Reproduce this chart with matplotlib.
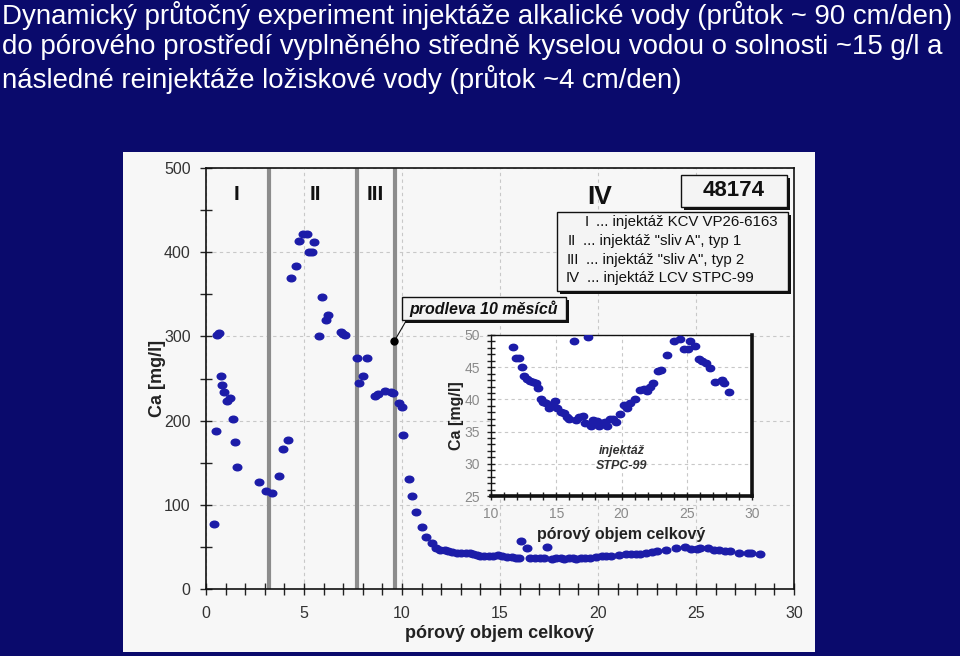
import matplotlib.pyplot as plt
from matplotlib.path import Path
from matplotlib.patches import Rectangle

plt.rcParams['font.family'] = ['Liberation Sans', 'DejaVu Sans']

# data
porovy_objem = [0.39, 0.51, 0.55, 0.65, 0.75, 0.82, 0.92, 1.05, 1.22, 1.36, 1.48, 1.58,
                2.72, 3.04, 3.37, 3.71, 3.95, 4.2, 4.35, 4.57, 4.76, 4.97, 5.14, 5.26,
                5.42, 5.53, 5.78, 5.92, 6.12, 6.22, 6.9, 7.0, 7.1, 7.69, 7.79, 8.0,
                8.23, 8.62, 8.79, 9.13, 9.44, 9.56, 9.86, 9.98, 10.07, 10.34, 10.53,
                10.7, 11.02, 11.22, 11.51,
                11.71, 11.92, 12.17, 12.35, 12.53, 12.79, 12.99, 13.25, 13.45, 13.6,
                13.81, 14.0, 14.2, 14.45, 14.63, 14.88, 15.09, 15.35, 15.6, 15.81,
                15.96, 16.07, 16.37, 16.52, 16.78, 17.03, 17.24, 17.42, 17.65, 17.85,
                18.1, 18.26, 18.52, 18.72, 18.87, 19.13, 19.33, 19.6, 19.9, 20.2,
                20.41, 20.66, 21.05, 21.43, 21.69, 21.94, 22.15, 22.45, 22.76, 23.02,
                23.48, 23.99, 24.45, 24.76, 25.06, 25.22, 25.6, 25.91, 26.19, 26.5,
                26.75, 27.19, 27.67, 27.83, 28.24]
ca = [76.8, 187.6, 301.7, 304, 253, 242, 234, 223.6, 226.5, 201.5, 175, 144.5,
      127, 116.4, 114, 134, 166, 177, 369, 384, 413.7, 422, 422, 400,
      400, 411.8, 300, 347, 320, 325, 305.6, 303, 301.7, 274.7, 244.6, 253,
      274.7, 229.6, 231, 235, 234, 232.4, 220.5, 216.5, 183, 131, 111,
      91.8, 73.6, 61.8, 54.3,
      48.1, 46.5, 46.4, 45.1, 43.6, 43.1, 42.9, 42.7, 42.6, 41.75,
      40.1, 39.6, 39.4, 38.6, 39.1, 39.8, 38.7, 38.0, 37.9, 37.2,
      36.9, 57.4, 49.0, 36.8, 37.3, 37.4, 36.4, 49.7, 35.9, 36.8,
      36.7, 35.9, 36.3, 36.5, 35.8, 36.9, 36.9, 36.5, 37.7, 39.2,
      38.6, 39.5, 40.1, 41.5, 41.6, 41.3, 42.0, 42.5, 44.4, 44.6,
      46.9, 49.0, 49.4, 47.9, 47.8, 49.0, 48.3, 46.3, 45.9, 45.6,
      44.8, 42.7, 43.0, 42.6, 41.1]

hranice = [3.2, 7.7, 9.66]          # konec injektaze I, II, III
prodleva_x, prodleva_y = 9.61, 294.5
faze = ['I', 'II', 'III']
faze_x = [1.58, 5.56, 8.62]
legenda_cisla = ['I', 'II', 'III', 'IV']
legenda_texty = ['... injektáž KCV VP26-6163', '... injektáž "sliv A", typ 1',
                 '... injektáž "sliv A", typ 2', '... injektáž LCV STPC-99']
nadpis = ['Dynamický průtočný experiment injektáže alkalické vody (průtok ~ 90 cm/den)',
          'do pórového prostředí vyplněného středně kyselou vodou o solnosti ~15 g/l a',
          'následné reinjektáže ložiskové vody (průtok ~4 cm/den)']

W, H = 960, 656
def fx(x): return x / W
def fy(y): return 1 - y / H

modra = '#1c1ca8'
kruh = Path.unit_circle()
elipsa = Path(kruh.vertices * [1.3, 1.0], kruh.codes)

fig = plt.figure(figsize=(9.6, 6.56), dpi=100)
fig.patch.set_facecolor('#0a0a6c')

# bily podklad obrazku
fig.add_artist(Rectangle((fx(123), fy(652)), (815 - 123) / W, (652 - 152) / H,
                         transform=fig.transFigure, facecolor='#f7f7f7',
                         edgecolor='none', zorder=-1))

for i, radek in enumerate(nadpis):
    fig.text(fx(2), fy(15 + 32.5 * i), radek, color='white', fontsize=19.9,
             va='center', ha='left')

# hlavni graf
ax = fig.add_axes([fx(206), fy(589), 588 / W, 421 / H])
ax.set_facecolor('none')
ax.set_xlim(0, 30)
ax.set_ylim(0, 500)
ax.set_xticks(range(0, 31, 5))
ax.set_xticks(range(0, 31), minor=True)
ax.set_yticks(range(0, 501, 100))
ax.set_yticks(range(0, 501, 50), minor=True)
ax.tick_params(which='both', direction='inout', length=8, width=1, color='#222222')
ax.tick_params(labelsize=11.5, labelcolor='#333333')
ax.tick_params(axis='x', pad=8)
ax.tick_params(axis='y', pad=7)
ax.grid(True, which='major', ls=(0, (3, 3)), color='#c8c8c8', lw=0.8)
for s in ax.spines.values():
    s.set_color('#111111')
    s.set_linewidth(1.2)

for xv in hranice:
    ax.axvline(xv, color='#8c8c8c', lw=3, zorder=2)

ax.plot(porovy_objem, ca, ls='none', marker=elipsa, ms=6.2, color=modra, zorder=3)
ax.plot(prodleva_x, prodleva_y, 'o', color='black', ms=5, zorder=5)

for t, xt in zip(faze, faze_x):
    ax.text(xt, 468, t, ha='center', va='center', fontsize=15, fontweight='heavy',
            color='#111111')
ax.text(20.1, 466, 'IV', ha='center', va='center', fontsize=19, fontweight='heavy',
        color='#111111')

ax.set_xlabel('pórový objem celkový', fontsize=13, fontweight='bold', color='#222222')
ax.xaxis.set_label_coords(0.5, -0.085)
ax.set_ylabel('Ca [mg/l]', fontsize=13, fontweight='bold', color='#222222')
ax.yaxis.set_label_coords(-0.068, 0.5)


def stin_box(x0, y0, x1, y1, z=4):
    fig.add_artist(Rectangle((fx(x0 + 3), fy(y1 + 3)), (x1 - x0) / W, (y1 - y0) / H,
                             transform=fig.transFigure, facecolor='#111111',
                             edgecolor='none', zorder=z))
    fig.add_artist(Rectangle((fx(x0), fy(y1)), (x1 - x0) / W, (y1 - y0) / H,
                             transform=fig.transFigure, facecolor='#f4f4f4',
                             edgecolor='#111111', lw=1, zorder=z + 0.1))


# prodleva 10 mesicu
stin_box(402, 297, 566, 320)
fig.text(fx(484), fy(309), 'prodleva 10 měsíců', ha='center', va='center',
         fontsize=11.5, fontweight='bold', fontstyle='italic', color='#111111', zorder=5)
ax.annotate('', xy=(prodleva_x, prodleva_y), xytext=(fx(406), fy(321)),
            textcoords='figure fraction',
            arrowprops=dict(arrowstyle='-', color='#111111', lw=0.8, shrinkA=0, shrinkB=0))

# 48174
stin_box(681, 175, 787, 207)
fig.text(fx(734), fy(191), '48174', ha='center', va='center', fontsize=16,
         fontweight='bold', color='#111111', zorder=5)

# legenda
stin_box(557, 212, 788, 291)
cisla_x = [589, 576, 579, 580]
texty_x = [596, 583, 586, 587]
for i, (c, t) in enumerate(zip(legenda_cisla, legenda_texty)):
    yy = fy(222 + 18.8 * i)
    fig.text(fx(cisla_x[i]), yy, c, ha='right', va='center', fontsize=10.8,
             color='#111111', zorder=5)
    fig.text(fx(texty_x[i]), yy, t, ha='left', va='center', fontsize=10.8,
             color='#111111', zorder=5)

# vlozeny graf
axi = fig.add_axes([fx(491), fy(496), 261 / W, 161 / H], zorder=2)
axi.set_facecolor('white')
axi.set_xlim(10, 30)
axi.set_ylim(25, 50)
axi.set_xticks(range(10, 31, 5))
axi.set_xticks(range(10, 31), minor=True)
axi.set_yticks(range(25, 51, 5))
axi.set_yticks(range(25, 51), minor=True)
axi.tick_params(which='both', direction='inout', length=6, width=1, color='#222222')
axi.tick_params(labelsize=10, labelcolor='#8a8a8a', pad=5)
axi.grid(True, which='major', ls=(0, (3, 3)), color='#c8c8c8', lw=0.8)
for k, s in axi.spines.items():
    s.set_color('#111111')
    s.set_linewidth(2.6 if k in ('right', 'bottom') else 1.0)
axi.plot(porovy_objem, ca, ls='none', marker=elipsa, ms=6, color=modra, zorder=3)
axi.text(20, 30.8, 'injektáž\nSTPC-99', ha='center', va='center', fontsize=9,
         fontstyle='italic', fontweight='bold', color='#333333', linespacing=1.3)
axi.set_xlabel('pórový objem celkový', fontsize=11.5, fontweight='bold',
               color='#222222', labelpad=4)
axi.set_ylabel('Ca [mg/l]', fontsize=11.5, fontweight='bold', color='#222222',
               labelpad=0)

fig.savefig('out.png', dpi=100, facecolor=fig.get_facecolor())
